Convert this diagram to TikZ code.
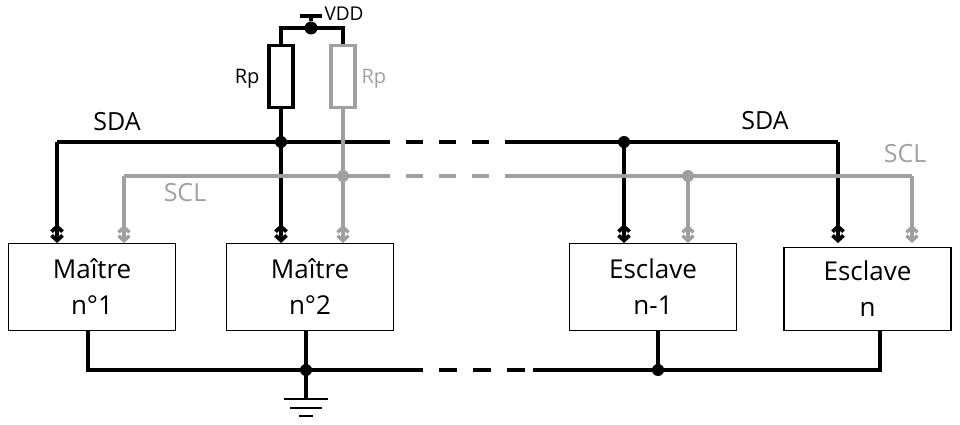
\documentclass[tikz,border=0pt]{standalone}
\usepackage{fontspec}
\setmainfont{Open Sans}
\usetikzlibrary{arrows.meta}
\definecolor{lg}{RGB}{160,160,160}
\begin{document}
\begin{tikzpicture}[x=1pt,y=-1pt,
  wire/.style={line width=3.8pt},
  sclw/.style={line width=3.4pt,lg},
  box/.style={draw,line width=1.4pt,minimum width=167pt,minimum height=87pt,align=center,font=\fontsize{26}{36}\selectfont},
  bi/.style={-{Straight Barb[length=5pt,width=11pt,reversed]Straight Barb[length=5pt,width=11pt]}},
  dot/.style={circle,fill,inner sep=0pt,minimum size=12pt},
  big/.style={font=\fontsize{25}{28}\selectfont},
  res/.style={draw,line width=3.8pt,minimum width=24pt,minimum height=62pt,inner sep=0pt}]
\useasboundingbox (0,0) rectangle (960,425);
\node[box] (m1) at (92,287) {Maître\\n°1};
\node[box] (m2) at (310,287) {Maître\\n°2};
\node[box] (s1) at (653,287) {Esclave\\n-1};
\node[box,minimum height=83pt] (s2) at (867.5,289) {Esclave\\n};
% resistors
\node[res] (r1) at (281,76.5) {};
\node[res,lg] (r2) at (343,76.5) {};
\node[font=\fontsize{20}{24}\selectfont,anchor=east] at (263,79) {Rp};
\node[font=\fontsize{20}{24}\selectfont,lg,anchor=west] at (358,79) {Rp};
\node[dot,minimum size=13pt] (vd) at (311,28) {};
\coordinate (vt) at (311,16);
\draw[line width=3.2pt] (300,16) -- (322,16);
\node[font=\fontsize{19}{22}\selectfont,anchor=west] at (321,14) {VDD};
\draw[wire] (vd) -- (vt);
\draw[wire] (r1.north) |- (vd.center);
\draw[wire] (vd.center) -| (r2.north);
% SDA
\node[dot] (d1) at (281,142) {};
\node[dot] (d2) at (624,142) {};
\coordinate (a1) at (373,142); \coordinate (a2) at (507,142);
\draw[wire] (a1) -- (57,142) coordinate(c1);
\draw[wire,bi] (c1) -- (57,243);
\draw[wire] (r1.south) -- (d1.center);
\draw[wire,bi] (d1.center) -- (281,243);
\draw[wire,dash pattern=on 17pt off 16pt] (a1) -- (a2);
\draw[wire] (a2) -- (838,142) coordinate (c2);
\draw[wire,bi] (c2) -- (838,243);
\draw[wire,bi] (d2.center) -- (624,243);
\node[big] at (117,122) {SDA};
\node[big] at (765,121) {SDA};
% SCL
\node[dot,lg] (e1) at (343,176) {};
\node[dot,lg] (e2) at (688,176) {};
\coordinate (b1) at (373,176); \coordinate (b2) at (507,176);
\draw[sclw] (b1) -- (124,176) coordinate (c3);
\draw[sclw,bi] (c3) -- (124,243);
\draw[sclw] (r2.south) -- (e1.center);
\draw[sclw,bi] (e1.center) -- (343,243);
\draw[sclw,dash pattern=on 17pt off 16pt] (b1) -- (b2);
\draw[sclw] (b2) -- (912,176) coordinate (c4);
\draw[sclw,bi] (c4) -- (912,243);
\draw[sclw,bi] (e2.center) -- (688,243);
\node[big,lg] at (185,193) {SCL};
\node[big,lg] at (905,154) {SCL};
% ground
\node[dot] (g1) at (306,370) {};
\node[dot] (g2) at (658,370) {};
\coordinate (h1) at (405,370); \coordinate (h2) at (533,370);
\draw[wire] (m1.south -| 88,0) |- (h1);
\draw[wire] (m2.south -| g1) -- (g1.center) -- (306,399) coordinate (gt);
\draw[wire,dash pattern=on 18pt off 16pt] (h1) -- (h2);
\draw[wire] (h2) -- (g2.center) -- (s1.south -| g2);
\draw[wire] (g2.center) -| (s2.south -| 880,0);
\draw[line width=2.6pt] (284,399) -- (328,399) (290,408) -- (322,408) (299,416) -- (313,416);
\end{tikzpicture}
\end{document}
